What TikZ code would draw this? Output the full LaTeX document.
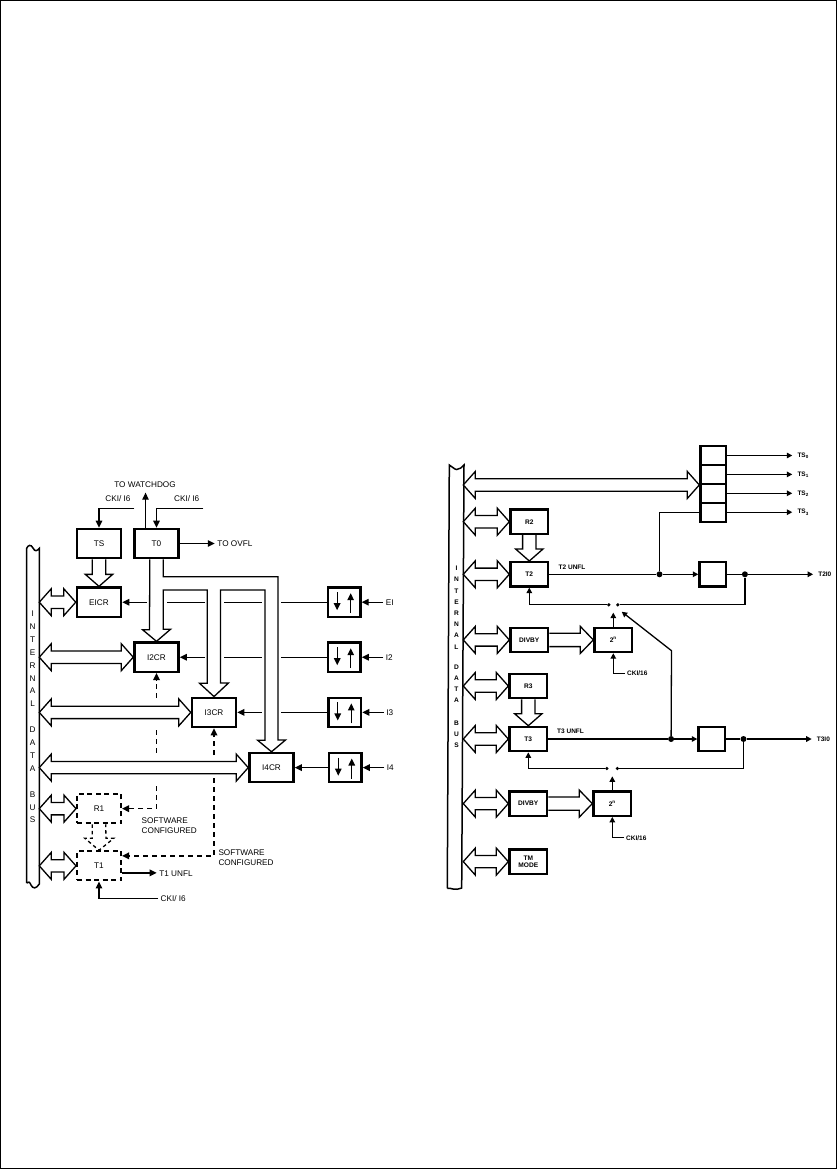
\documentclass[tikz,border=0pt]{standalone}
\usepackage{fontspec}
\setmainfont{Liberation Sans}
\usepackage{tikz}
\usetikzlibrary{arrows.meta, positioning, calc}

\begin{document}
\begin{tikzpicture}[
  x=1pt, y=-1pt,
  every node/.style={font=\fontsize{8.2}{10}\selectfont},
  regbox/.style={rectangle, draw, line width=2.5pt, fill=white, inner sep=0pt,
    minimum width=44pt, minimum height=29.2pt},
  syncbox/.style={regbox, minimum width=32.5pt},
  softbox/.style={regbox, line width=2pt, dash pattern=on 5pt off 3.5pt},
  tbox/.style={rectangle, draw, line width=2.2pt, fill=white, inner sep=0pt,
    align=center, minimum width=37.8pt, minimum height=24.4pt,
    font=\fontsize{6.6}{7.6}\selectfont\bfseries},
  flop/.style={tbox, minimum width=26.2pt},
  stackbox/.style={tbox, minimum width=25.8pt, minimum height=18.9pt},
  lbl/.style={inner sep=2.5pt, align=left},
  sig/.style={inner sep=2pt, font=\fontsize{6.5}{8}\selectfont\bfseries},
  dot/.style={circle, fill, inner sep=0pt, minimum size=6pt},
  pin/.style={circle, fill, inner sep=0pt, minimum size=3.6pt},
  busbar/.style={inner sep=0pt, outer sep=0pt, minimum width=12.6pt},
  bustext/.style={inner sep=0pt, align=center},
  wire/.style={line width=1.3pt},
  arr/.style={-{Triangle[length=7pt, width=6.5pt]}, line width=1.3pt},
  tarr/.style={-{Triangle[length=5.5pt, width=5.5pt]}, line width=1.3pt},
  dline/.style={line width=1.6pt, dash pattern=on 5pt off 4pt},
  darr/.style={-{Triangle[length=7pt, width=6.5pt]}, line width=1.6pt,
    dash pattern=on 5pt off 4pt},
  hollowline/.style={line width=1.3pt, line join=miter},
  busboth/.style={hollowline, fill=white, to path={
    let \p1=(\tikztostart), \p2=(\tikztotarget) in
    (\p1) -- ++(12pt,13.5pt) -- ++(0pt,-7.3pt) -- (\x2-12pt,\y1+6.2pt) -- ++(0pt,7.3pt)
    -- (\p2) -- ++(-12pt,-13.5pt) -- ++(0pt,7.3pt) -- (\x1+12pt,\y1-6.2pt) -- ++(0pt,-7.3pt) -- cycle}},
  busright/.style={hollowline, to path={
    let \p1=(\tikztostart), \p2=(\tikztotarget) in
    (\x1,\y1+6.7pt) -- (\x2-13pt,\y1+6.7pt) -- ++(0pt,6.8pt) -- (\p2)
    -- ++(-13pt,-13.5pt) -- ++(0pt,6.8pt) -- (\x1,\y1-6.7pt)}},
  busdown/.style={hollowline, to path={
    let \p1=(\tikztostart), \p2=(\tikztotarget) in
    (\x1+6.7pt,\y1) -- (\x1+6.7pt,\y2+12pt) -- ++(7pt,0pt) -- (\p2)
    -- ++(-13.7pt,12pt) -- ++(7pt,0pt) -- (\x1-6.7pt,\y1)}}
]

\useasboundingbox (0,0) rectangle (837,1169);
\draw[line width=1.3pt] (0.8,0.6) rectangle (836.4,1168.4);

% left bus
\node[busbar, minimum height=338pt] (busl) at (33,716) {};
\node[bustext, font=\fontsize{8.2}{12.9}\selectfont] (busltxt) at (32.7,717) {%
  I\\N\\T\\E\\R\\N\\A\\L\\[12.9pt]D\\A\\T\\A\\[12.9pt]B\\U\\S};
\draw[line width=1.5pt] (26.7,883) -- (26.7,548.3) .. controls (28,545) and (31,544) .. (33,548)
  .. controls (35,552) and (37,551) .. (39.3,548.3) -- (39.3,884)
  .. controls (36,889) and (33,889) .. (31,885) .. controls (30,882) and (28,881) .. (26.7,883);

% left registers
\node[regbox] (ts) at (99,543.5) {TS};
\node[regbox, right=11pt of ts] (t0) {T0};
\node[regbox, below=27pt of ts] (eicr) {EICR};
\node[regbox, below=82pt of t0] (i2cr) {I2CR};
\node[regbox, below right=23.5pt and 11pt of i2cr] (i3cr) {I3CR};
\node[regbox, below right=23.5pt and 11pt of i3cr] (i4cr) {I4CR};
\node[softbox, below=175pt of eicr] (r1) {R1};
\node[softbox, below=26pt of r1] (t1) {T1};

\node[syncbox, right=204.4pt of eicr] (se) {};
\node[syncbox, right=147pt of i2cr] (s2) {};
\node[syncbox, right=90pt of i3cr] (s3) {};
\node[syncbox, right=33pt of i4cr] (s4) {};

% left labels
\node[lbl] (wdog) at (145,484.7) {TO WATCHDOG};
\node[lbl] (ckits) at (118,498.7) {CKI/ I6};
\node[lbl] (ckit0) at (186.7,498.7) {CKI/ I6};
\node[lbl, right=35pt of t0] (ovfl) {TO OVFL};
\node[lbl, right=21.5pt of se] (ei) {EI};
\node[lbl, right=21.5pt of s2] (i2) {I2};
\node[lbl, right=21.5pt of s3] (i3) {I3};
\node[lbl, right=21.5pt of s4] (i4) {I4};
\node[lbl, anchor=west] (swa) at (139,825.5) {SOFTWARE\\CONFIGURED};
\node[lbl, anchor=west] (swb) at (215.8,857.5) {SOFTWARE\\CONFIGURED};
\node[lbl, anchor=west] (t1unfl) at (156.7,874) {T1 UNFL};
\node[lbl, anchor=west] (ckit1) at (158,898.3) {CKI/ I6};

\coordinate (ckitsend) at (134.3,508.3);
\coordinate (ckit0end) at (203.3,508.3);
\coordinate (wdogfoot) at ($(t0.north)+(-11,0)$);
\coordinate (t1out) at ($(t1.east)+(0,7)$);
\draw[arr] (ckitsend) -| (ts.north);
\draw[arr] (ckit0end) -| (t0.north);
\draw[arr] (wdogfoot) -- ++(0,-35) coordinate (wdogend);
\draw[arr] (t0.east) -- (ovfl.west);
\draw[arr] (t1out) -- (t1out -| t1unfl.west);
\draw[arr] (ckit1.west) -| (t1.south);

% bus connections, left
\draw[busboth] (busl.east |- eicr) to (eicr.west);
\draw[busboth] (busl.east |- i2cr) to (i2cr.west);
\draw[busboth] (busl.east |- i3cr) to (i3cr.west);
\draw[busboth] (busl.east |- i4cr) to (i4cr.west);
\draw[busboth] (busl.east |- r1) to (r1.west);
\draw[busboth] (busl.east |- t1) to (t1.west);
\draw[busdown] (ts.south) to (eicr.north);

% T0 tree
\draw[hollowline] ($(t0.south)+(6.7,0)$) -- ++(0,17.4) -- (278,576.7) -- (278,740) -- ++(7.5,0)
  -- (i4cr.north) -- ++(-14,-11.6) -- ++(7.5,0) -- (265,590) -- (220.5,590) -- (220.5,683)
  -- ++(8,0) -- (i3cr.north) -- ++(-14.5,-13.3) -- ++(7.8,0) -- (207.3,590) -- (163.2,590)
  -- (163.2,629.3) -- ++(7.3,0) -- (i2cr.north) -- ++(-14,-11.7) -- ++(7,0)
  -- ($(t0.south)+(-6.7,0)$);

% dashed hollow R1 to T1
\draw[line width=1.3pt, dash pattern=on 3.5pt off 3pt] ($(r1.south)+(-6.7,0)$) -- ++(0,14) -- ++(-7.5,0) -- (t1.north)
  -- ++(14.8,-12) -- ++(-7.8,0) -- ($(r1.south)+(6.7,0)$);

% interrupt lines with gaps
\coordinate (gapa) at (281,0);
\coordinate (gapb) at (261.5,0);
\coordinate (gapc) at (224,0);
\coordinate (gapd) at (205,0);
\coordinate (gape) at (166.7,0);
\coordinate (gapf) at (146.7,0);

\draw[arr] (ei.west) -- (se.east);
\draw[arr] (i2.west) -- (s2.east);
\draw[arr] (i3.west) -- (s3.east);
\draw[arr] (i4.west) -- (s4.east);

\draw[wire] (se.west) -- (se.west -| gapa);
\draw[wire] (se.west -| gapb) -- (se.west -| gapc);
\draw[wire] (se.west -| gapd) -- (se.west -| gape);
\draw[arr] (se.west -| gapf) -- (eicr.east);

\draw[wire] (s2.west) -- (s2.west -| gapa);
\draw[wire] (s2.west -| gapb) -- (s2.west -| gapc);
\draw[arr] (s2.west -| gapd) -- (i2cr.east);

\draw[wire] (s3.west) -- (s3.west -| gapa);
\draw[arr] (s3.west -| gapb) -- (i3cr.east);

\draw[arr] (s4.west) -- (i4cr.east);

% arrows inside the sync boxes
\draw[arr] ($(se.center)+(-7,-10)$) -- ++(0,18);
\draw[arr] ($(se.center)+(6.5,11)$) -- ++(0,-20);
\draw[arr] ($(s2.center)+(-7,-10)$) -- ++(0,18);
\draw[arr] ($(s2.center)+(6.5,11)$) -- ++(0,-20);
\draw[arr] ($(s3.center)+(-7,-10)$) -- ++(0,18);
\draw[arr] ($(s3.center)+(6.5,11)$) -- ++(0,-20);
\draw[arr] ($(s4.center)+(-7,-10)$) -- ++(0,18);
\draw[arr] ($(s4.center)+(6.5,11)$) -- ++(0,-20);

% dashed software lines
\coordinate (da) at (0,698);
\coordinate (db) at (0,730);
\coordinate (dc) at (0,755);
\coordinate (dd) at (0,786);
\coordinate (de) at (0,778);
\coordinate (t1side) at ($(t1.east)+(0,-10)$);

\draw[darr] (i2cr.south |- da) -- (i2cr.south);
\draw[dline] (i2cr.south |- db) -- (i2cr.south |- dc);
\draw[darr] (i2cr.south |- dd) -- (i2cr.south |- r1.east) -- (r1.east);
\draw[darr] (i3cr.south |- dc) -- (i3cr.south);
\draw[darr] (i3cr.south |- de) -- (i3cr.south |- t1side) -- (t1side);

% right bus
\node[busbar, minimum height=423pt, minimum width=14.6pt] (busr) at (456,676.5) {};
\node[bustext, font=\fontsize{6.6}{11.2}\selectfont\bfseries] (busrtxt) at (456.5,657) {%
  I\\N\\T\\E\\R\\N\\A\\L\\[9pt]D\\A\\T\\A\\[11.2pt]B\\U\\S};
\draw[line width=1.5pt] (447.3,888.3) -- (449.3,465) .. controls (452,466) and (454,469.5) .. (456.7,469.5)
  .. controls (460,469.5) and (462,467) .. (464,465) -- (461.7,888)
  .. controls (458,889) and (456,890) .. (453,889) .. controls (451,888.5) and (449,888) .. (447.3,888.3);

% right registers
\node[tbox] (r2) at (529.3,521.7) {R2};
\node[tbox, below=26pt of r2] (t2) {T2};
\node[tbox, below=39pt of t2] (divbya) {DIVBY};
\node[tbox, below=19.5pt of divbya, xshift=-1pt] (r3) {R3};
\node[tbox, below=26.4pt of r3] (t3) {T3};
\node[tbox, below=38pt of t3] (divbyb) {DIVBY};
\node[tbox, below=31.4pt of divbyb] (tm) {TM\\[-1pt]MODE};
\node[tbox, right=44pt of divbya] (powa) {2\textsuperscript{n}};
\node[tbox, right=44pt of divbyb] (powb) {2\textsuperscript{n}};
\node[flop, right=149pt of t2] (fa) {};
\node[flop, right=149pt of t3] (fb) {};

% TS stack
\node[stackbox] (tsb0) at (713.3,455.5) {};
\node[stackbox, below=-2.2pt of tsb0] (tsb1) {};
\node[stackbox, below=-2.2pt of tsb1] (tsb2) {};
\node[stackbox, below=-2.2pt of tsb2] (tsb3) {};

\node[sig, right=68pt of tsb0] (ts0) {TS\textsubscript{0}};
\node[sig, right=68pt of tsb1] (ts1) {TS\textsubscript{1}};
\node[sig, right=68pt of tsb2] (ts2) {TS\textsubscript{2}};
\node[sig, right=68pt of tsb3] (ts3) {TS\textsubscript{3}};
\draw[tarr, shorten >=3pt] (tsb0.east) -- (ts0.west);
\draw[tarr, shorten >=3pt] (tsb1.east) -- (ts1.west);
\draw[tarr, shorten >=3pt] (tsb2.east) -- (ts2.west);
\draw[tarr, shorten >=3pt] (tsb3.east) -- (ts3.west);

% bus connections, right
\draw[busboth] (busr.east |- tsb1.south west) to (tsb1.south west);
\draw[busboth] (busr.east |- r2) to (r2.west);
\draw[busboth] (busr.east |- t2) to (t2.west);
\draw[busboth] (busr.east |- divbya) to (divbya.west);
\draw[busboth] (busr.east |- r3) to (r3.west);
\draw[busboth] (busr.east |- t3) to (t3.west);
\draw[busboth] (busr.east |- divbyb) to (divbyb.west);
\draw[busboth] (busr.east |- tm) to (tm.west);
\draw[busdown] (r2.south) to (t2.north);
\draw[busdown] (r3.south) to (t3.north);
\draw[busright] (divbya.east) to (powa.west);
\draw[busright] (divbyb.east) to (powb.west);

% timer 2 path
\node[sig, anchor=west] (unfla) at (556.5,567.3) {T2 UNFL};
\node[dot, right=107pt of t2] (dta) {};
\node[dot, right=15pt of fa] (dqa) {};
\node[sig, right=68pt of dqa] (t2io) {T2I0};
\node[pin, above=19.8pt of powa, xshift=-4.5pt] (pina) {};
\node[pin, above=19.8pt of powa, xshift=4.5pt] (pinb) {};
\node[sig, anchor=west] (ckia) at (625,673.3) {CKI/16};

\draw[wire] (t2.east) -- (dta);
\draw[tarr] (dta) -- (fa.west);
\draw[wire] (dta) |- (tsb3.west);
\draw[wire] (fa.east) -- (dqa);
\draw[tarr, shorten >=3pt] (dqa) -- (t2io.west);
\draw[wire] (dqa) |- (pinb);
\draw[tarr] (pina) -| (t2.south);
\draw[tarr] (powa.north) -- ($(powa.north)+(0,-14)$) coordinate (tipa);
\draw[tarr] (ckia.west) -| (powa.south);

% timer 3 path
\node[sig, anchor=west] (unflb) at (555,731) {T3 UNFL};
\node[dot, right=119.6pt of t3] (dtb) {};
\node[dot, right=14.6pt of fb] (dqb) {};
\node[sig, right=68pt of dqb] (t3io) {T3I0};
\node[pin, above=19.8pt of powb, xshift=-5.5pt] (pinc) {};
\node[pin, above=19.8pt of powb, xshift=5pt] (pind) {};
\node[sig, anchor=west] (ckib) at (624,837.7) {CKI/16};

\draw[wire] (t3.east) -- (dtb);
\draw[tarr] (dtb) -- (fb.west);
\draw[wire] (fb.east) -- (dqb);
\draw[tarr, shorten >=3pt] (dqb) -- (t3io.west);
\draw[wire] (dqb) |- (pind);
\draw[tarr] (pinc) -| (t3.south);
\draw[tarr] (powb.north) -- ($(powb.north)+(0,-14)$) coordinate (tipb);
\draw[tarr] (ckib.west) -| (powb.south);

% selector line
\coordinate (selbend) at (671.5,650.7);
\coordinate (seltip) at (621.7,611.7);
\draw[tarr] (dtb) -- (selbend) -- (seltip);

\end{tikzpicture}
\end{document}
